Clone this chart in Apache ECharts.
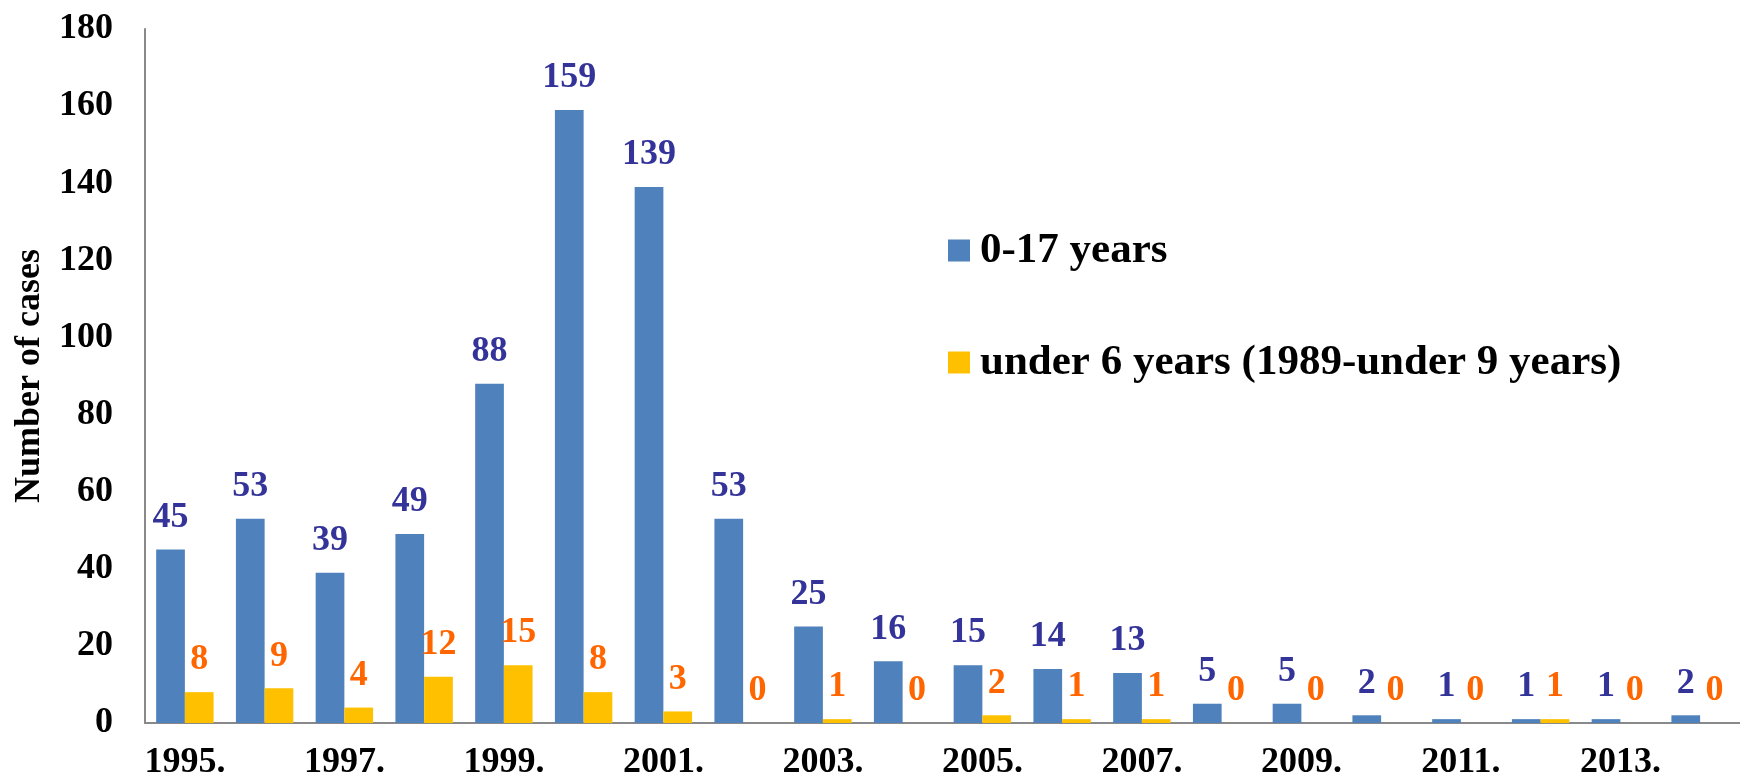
<!DOCTYPE html>
<html>
<head>
<meta charset="utf-8">
<script src="https://cdn.jsdelivr.net/npm/echarts@6/dist/echarts.min.js"></script>
<style>
  html, body { margin: 0; padding: 0; background: #fff; }
  #chart { width: 1740px; height: 783px; }
</style>
</head>
<body>
<div id="chart"></div>
<script>
// years on the category axis
const years = ['1995.', '1996.', '1997.', '1998.', '1999.', '2000.', '2001.', '2002.', '2003.', '2004.',
  '2005.', '2006.', '2007.', '2008.', '2009.', '2010.', '2011.', '2012.', '2013.', '2014.']
// 0-17 years
const allAges = [45, 53, 39, 49, 88, 159, 139, 53, 25, 16, 15, 14, 13, 5, 5, 2, 1, 1, 1, 2]
// under 6 years (1989-under 9 years)
const underSix = [8, 9, 4, 12, 15, 8, 3, 0, 1, 0, 2, 1, 1, 0, 0, 0, 0, 1, 0, 0]
const seriesNames = ['0-17 years', 'under 6 years (1989-under 9 years)']

const font = "'Liberation Serif', 'Times New Roman', serif"

const chart = echarts.init(document.getElementById('chart'))
chart.setOption({
  animation: false,
  grid: {
    left: 145,
    right: -15, // last category runs past the right edge
    top: 29,
    bottom: 60
  },
  legend: {
    orient: 'vertical',
    left: 943,
    top: 224,
    itemWidth: 22,
    itemHeight: 22,
    itemGap: 69,
    icon: 'rect',
    data: seriesNames,
    textStyle: {
      fontFamily: font,
      fontWeight: 'bold',
      fontSize: 43,
      color: '#000',
      padding: [0, 0, 0, 5]
    }
  },
  xAxis: {
    type: 'category',
    data: years,
    axisTick: { show: false },
    axisLine: { lineStyle: { color: '#898989', width: 2 } },
    axisLabel: {
      interval: 1,
      margin: 22,
      color: '#000',
      fontFamily: font,
      fontWeight: 'bold',
      fontSize: 36
    }
  },
  yAxis: {
    type: 'value',
    min: 0,
    max: 180,
    interval: 20,
    name: 'Number of cases',
    nameLocation: 'middle',
    nameGap: 94,
    nameTextStyle: {
      color: '#000',
      fontFamily: font,
      fontWeight: 'bold',
      fontSize: 36
    },
    splitLine: { show: false },
    axisTick: { show: false },
    axisLine: { show: true, lineStyle: { color: '#898989', width: 2 } },
    axisLabel: {
      margin: 32,
      color: '#000',
      fontFamily: font,
      fontWeight: 'bold',
      fontSize: 36
    }
  },
  series: [
    {
      type: 'bar',
      name: seriesNames[0],
      data: allAges,
      barGap: '0%',
      barCategoryGap: '28%',
      itemStyle: { color: '#4F81BD' },
      label: {
        show: true,
        position: 'top',
        distance: 14,
        color: '#333399',
        fontFamily: font,
        fontWeight: 'bold',
        fontSize: 36
      }
    },
    {
      type: 'bar',
      name: seriesNames[1],
      data: underSix,
      itemStyle: { color: '#FFC000' },
      label: {
        show: true,
        position: 'top',
        distance: 14,
        color: '#FF6600',
        fontFamily: font,
        fontWeight: 'bold',
        fontSize: 36
      }
    }
  ]
})
</script>
</body>
</html>
